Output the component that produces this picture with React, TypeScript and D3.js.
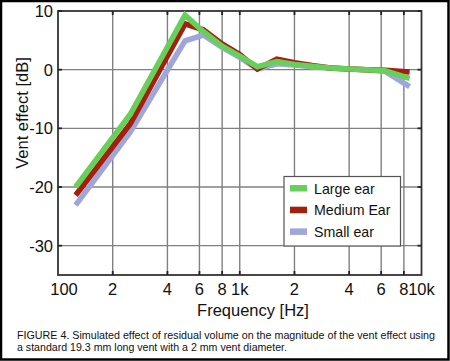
import React from "react";
import * as d3 from "d3";

const freqs = [125, 250, 500, 630, 800, 1000, 1250, 1600, 2000, 2500, 3150, 4000, 5000, 6300, 8600];
const largeEar = [-20.0, -7.6, 9.3, 6.5, 4.0, 2.3, 0.5, 1.4, 0.9, 0.6, 0.3, 0.1, 0.0, -0.2, -1.5];
const mediumEar = [-21.4, -9.2, 7.8, 6.8, 4.4, 2.6, 0.1, 1.8, 1.2, 0.7, 0.3, 0.1, 0.0, -0.1, -0.4];
const smallEar = [-23.1, -10.6, 4.9, 5.9, 3.8, 2.1, 0.1, 1.0, 0.8, 0.5, 0.3, 0.1, 0.0, -0.3, -2.9];

const xTicks = [100, 200, 400, 600, 800, 1000, 2000, 4000, 6000, 8000, 10000];
const xTickLabels = ["100", "2", "4", "6", "8", "1k", "2", "4", "6", "8", "10k"];
const xGrid = [200, 400, 600, 800, 1000, 2000, 4000, 6000, 8000];
const yTicks = [10, 0, -10, -20, -30];
const yGrid = [0, -10, -20, -30];

const seriesNames = ["Large ear", "Medium Ear", "Small ear"];
const seriesColors = ["#68d05a", "#a3200f", "#9ea6dc"];

const FONT = "'Liberation Sans', Arial, Helvetica, sans-serif";

export default function App() {
  const left = 58, right = 421.5, top = 11, bottom = 275;
  const x = d3.scaleLog().domain([100, 10000]).range([left, right]);
  const y = d3.scaleLinear().domain([-35, 10]).range([bottom, top]);
  const line = d3
    .line<[number, number]>()
    .x((d) => x(d[0]))
    .y((d) => y(d[1]));

  const series = [smallEar, mediumEar, largeEar];
  const seriesCol = [seriesColors[2], seriesColors[1], seriesColors[0]];

  const legX = 284, legY = 176.5, legW = 116.5, legH = 69.5;

  return (
    <svg
      width={450}
      height={361}
      style={{ position: "absolute", left: 0, top: 0, background: "#fff" }}
      fontFamily={FONT}
    >
      <rect x={0} y={0} width={450} height={361} fill="#fff" />
      {xGrid.map((f) => (
        <line key={"xg" + f} x1={x(f)} x2={x(f)} y1={top} y2={bottom} stroke="#808080" strokeWidth={1.4} />
      ))}
      {yGrid.map((v) => (
        <line key={"yg" + v} x1={left} x2={right} y1={y(v)} y2={y(v)} stroke="#808080" strokeWidth={1.4} />
      ))}
      <rect x={left} y={top} width={right - left} height={bottom - top} fill="none" stroke="#333" strokeWidth={1.8} />
      {xGrid.map((f) => (
        <g key={"xt" + f}>
          <line x1={x(f)} x2={x(f)} y1={top} y2={top + 4} stroke="#222" strokeWidth={1.8} />
          <line x1={x(f)} x2={x(f)} y1={bottom} y2={bottom - 4} stroke="#222" strokeWidth={1.8} />
        </g>
      ))}
      {yTicks.map((v) => (
        <g key={"yt" + v}>
          <line x1={left} x2={left + 4} y1={y(v)} y2={y(v)} stroke="#222" strokeWidth={1.8} />
          <line x1={right} x2={right - 4} y1={y(v)} y2={y(v)} stroke="#222" strokeWidth={1.8} />
        </g>
      ))}
      {series.map((vals, i) => (
        <path
          key={"s" + i}
          d={line(freqs.map((f, j) => [f, vals[j]] as [number, number])) || ""}
          fill="none"
          stroke={seriesCol[i]}
          strokeWidth={5.5}
          strokeLinejoin="miter"
        />
      ))}
      {yTicks.map((v) => (
        <text key={"yl" + v} x={53} y={y(v) + 6} textAnchor="end" fontSize={16.5} fill="#111">
          {v}
        </text>
      ))}
      {xTicks.map((f, i) => (
        <text
          key={"xl" + f}
          x={x(f) + (i === 0 ? 6 : 0)}
          y={295}
          textAnchor="middle"
          fontSize={16.5}
          fill="#111"
        >
          {xTickLabels[i]}
        </text>
      ))}
      <text x={253} y={316} textAnchor="middle" fontSize={16.5} fill="#111">
        Frequency [Hz]
      </text>
      <text transform="translate(28,113) rotate(-90)" textAnchor="middle" fontSize={16.5} fill="#111">
        Vent effect [dB]
      </text>
      <rect x={legX} y={legY} width={legW} height={legH} fill="#fff" stroke="#555" strokeWidth={1.2} />
      {seriesNames.map((n, i) => (
        <g key={"lg" + i}>
          <rect x={290} y={185 + i * 21.7} width={17} height={6.5} fill={seriesColors[i]} />
          <text x={314} y={193.5 + i * 21.7} fontSize={14.2} fill="#111">
            {n}
          </text>
        </g>
      ))}
      <text x={17} y={339} fontSize={11} fill="#111" textLength={418} lengthAdjust="spacingAndGlyphs">
        FIGURE 4. Simulated effect of residual volume on the magnitude of the vent effect using
      </text>
      <text x={17} y={350.5} fontSize={11} fill="#111" textLength={270} lengthAdjust="spacingAndGlyphs">
        a standard 19.3 mm long vent with a 2 mm vent diameter.
      </text>
      <rect x={1} y={1} width={447.5} height={358.5} fill="none" stroke="#000" strokeWidth={2.5} />
    </svg>
  );
}
